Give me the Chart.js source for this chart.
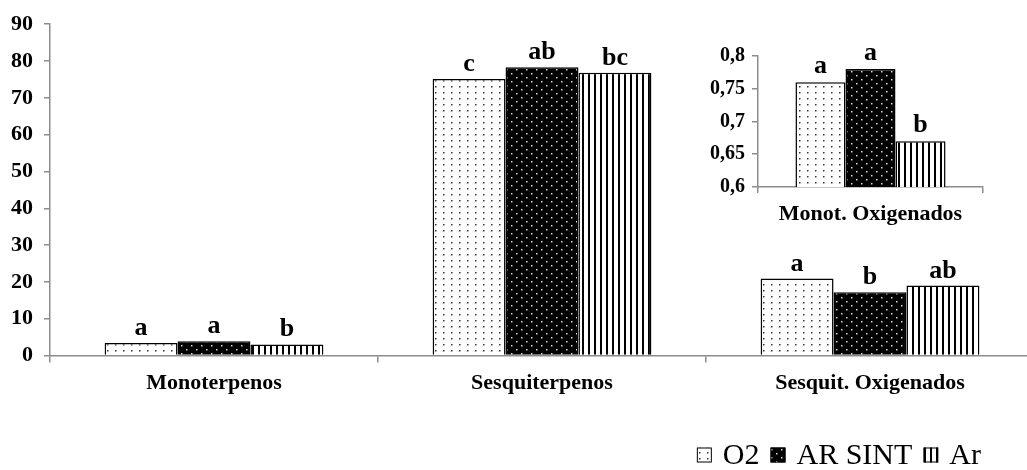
<!DOCTYPE html>
<html><head><meta charset="utf-8">
<script src="https://cdn.jsdelivr.net/npm/chart.js@4/dist/chart.umd.min.js"></script>
<style>
html,body{margin:0;padding:0;background:#fff;overflow:hidden;width:1027px;height:470px;}
#wrap{position:relative;width:1027px;height:470px;overflow:hidden;background:#fff;}
#main{position:absolute;left:0;top:0;}
#inset{position:absolute;left:700px;top:30px;}
</style></head><body>
<div id="wrap"><canvas id="main" width="1034" height="470"></canvas><canvas id="inset" width="310" height="200"></canvas></div>
<script>
// ---- data ----
const categories = ['Monoterpenos', 'Sesquiterpenos', 'Sesquit. Oxigenados'];
const seriesNames = ['O2', 'AR SINT', 'Ar'];
const o2Values = [3.4, 75.1, 20.9];
const arSintValues = [3.9, 78.3, 17.2];
const arValues = [3.0, 76.8, 19.0];
const o2Letters = ['a', 'c', 'a'];
const arSintLetters = ['a', 'ab', 'b'];
const arLetters = ['b', 'bc', 'ab'];
const yTickLabels = ['0', '10', '20', '30', '40', '50', '60', '70', '80', '90'];

const insetCategories = ['Monot. Oxigenados'];
const insetO2Values = [0.76];
const insetArSintValues = [0.78];
const insetArValues = [0.67];
const insetO2Letters = ['a'];
const insetArSintLetters = ['a'];
const insetArLetters = ['b'];
const insetTickLabels = ['0,6', '0,65', '0,7', '0,75', '0,8'];

// ---- styling ----
const SERIF = "'Liberation Serif', 'Times New Roman', serif";
const AXIS = '#8c8c8c';

function makePattern(kind) {
  const c = document.createElement('canvas');
  const x = c.getContext('2d');
  if (kind === 'sparse') {
    c.width = 8; c.height = 6;
    x.fillStyle = '#fff'; x.fillRect(0, 0, 8, 6);
    x.fillStyle = '#333'; x.fillRect(3, 2, 1.5, 1.5);
  } else if (kind === 'dense') {
    c.width = 10; c.height = 8;
    x.fillStyle = '#000'; x.fillRect(0, 0, 10, 8);
    x.fillStyle = '#d8d8d8'; x.fillRect(1, 1, 1.5, 1.5); x.fillRect(6, 5, 1.5, 1.5);
  } else {
    c.width = 6; c.height = 4;
    x.fillStyle = '#fff'; x.fillRect(0, 0, 6, 4);
    x.fillStyle = '#000'; x.fillRect(0, 0, 2, 4);
  }
  return x.createPattern(c, 'repeat');
}
const patterns = [makePattern('sparse'), makePattern('dense'), makePattern('stripes')];

const letterPlugin = {
  id: 'letters',
  afterDatasetsDraw(chart, args, opts) {
    const ctx = chart.ctx;
    ctx.save();
    ctx.font = opts.font;
    ctx.fillStyle = '#000';
    ctx.textAlign = 'center';
    ctx.textBaseline = 'alphabetic';
    chart.data.datasets.forEach((ds, i) => {
      const meta = chart.getDatasetMeta(i);
      meta.data.forEach((el, j) => {
        ctx.fillText(ds.letters[j], el.x, el.y - opts.gap);
      });
    });
    ctx.restore();
  }
};

const legendPlugin = {
  id: 'customLegend',
  afterDraw(chart, args, opts) {
    if (!opts.show) return;
    const ctx = chart.ctx;
    ctx.save();
    ctx.font = opts.font;
    ctx.textBaseline = 'middle';
    ctx.textAlign = 'left';
    const items = chart.data.datasets.map(d => ({ label: d.label, fill: d.backgroundColor }));
    let total = 0;
    items.forEach((it, i) => {
      it.w = ctx.measureText(it.label).width;
      total += opts.box + opts.boxGap + it.w + (i < items.length - 1 ? opts.itemGap : 0);
    });
    let x = opts.right - total;
    const cy = opts.cy;
    items.forEach(it => {
      ctx.fillStyle = it.fill;
      ctx.fillRect(x, cy - opts.box / 2, opts.box, opts.box);
      ctx.strokeStyle = '#000';
      ctx.lineWidth = 1;
      ctx.strokeRect(x + 0.5, cy - opts.box / 2 + 0.5, opts.box - 1, opts.box - 1);
      x += opts.box + opts.boxGap;
      ctx.fillStyle = '#000';
      ctx.fillText(it.label, x, cy + 1);
      x += it.w + opts.itemGap;
    });
    ctx.restore();
  }
};

function buildDatasets(vals, letters) {
  return seriesNames.map((name, i) => ({
    label: name,
    data: vals[i],
    letters: letters[i],
    backgroundColor: patterns[i],
    borderColor: '#000',
    borderWidth: 1.5,
    categoryPercentage: 0.667,
    barPercentage: 1.0
  }));
}

new Chart(document.getElementById('main'), {
  type: 'bar',
  data: {
    labels: categories,
    datasets: buildDatasets([o2Values, arSintValues, arValues], [o2Letters, arSintLetters, arLetters])
  },
  plugins: [letterPlugin, legendPlugin],
  options: {
    responsive: false,
    animation: false,
    layout: { padding: { top: 19, right: 0, bottom: 0, left: 0 } },
    plugins: {
      legend: { display: false },
      tooltip: { enabled: false },
      letters: { font: 'bold 26px ' + SERIF, gap: 8 },
      customLegend: { show: true, font: '30px ' + SERIF, box: 15, boxGap: 11, itemGap: 11, right: 981, cy: 455 }
    },
    scales: {
      x: {
        afterFit(s) { s.height = 114.5; },
        grid: { display: true, drawOnChartArea: false, offset: true, tickLength: 7, color: AXIS, lineWidth: 1.5 },
        border: { color: AXIS, width: 1.5 },
        ticks: { color: '#000', padding: 8, font: { family: SERIF, size: 22, weight: 'bold' } }
      },
      y: {
        min: 0, max: 90,
        afterFit(s) { s.width = 50; },
        grid: { display: true, drawOnChartArea: false, tickLength: 6, color: AXIS, lineWidth: 1.5 },
        border: { color: AXIS, width: 1.5 },
        ticks: {
          stepSize: 10, color: '#000', padding: 11,
          font: { family: SERIF, size: 22, weight: 'bold' },
          callback: (v, i) => yTickLabels[i]
        }
      }
    }
  }
});

new Chart(document.getElementById('inset'), {
  type: 'bar',
  data: {
    labels: insetCategories,
    datasets: buildDatasets([insetO2Values, insetArSintValues, insetArValues], [insetO2Letters, insetArSintLetters, insetArLetters])
  },
  plugins: [letterPlugin],
  options: {
    responsive: false,
    animation: false,
    layout: { padding: { top: 26, right: 27, bottom: 0, left: 0 } },
    plugins: {
      legend: { display: false },
      tooltip: { enabled: false },
      letters: { font: 'bold 26px ' + SERIF, gap: 9 }
    },
    scales: {
      x: {
        afterFit(s) { s.height = 43; },
        grid: { display: true, drawOnChartArea: false, offset: true, tickLength: 6, color: AXIS, lineWidth: 1.5 },
        border: { color: AXIS, width: 1.5 },
        ticks: { color: '#000', padding: 8, font: { family: SERIF, size: 22, weight: 'bold' } }
      },
      y: {
        min: 0.6, max: 0.8,
        afterFit(s) { s.width = 58; },
        grid: { display: true, drawOnChartArea: false, tickLength: 6, color: AXIS, lineWidth: 1.5 },
        border: { color: AXIS, width: 1.5 },
        ticks: {
          stepSize: 0.05, color: '#000', padding: 7,
          font: { family: SERIF, size: 20, weight: 'bold' },
          callback: (v, i) => insetTickLabels[i]
        }
      }
    }
  }
});
</script>
</body></html>
